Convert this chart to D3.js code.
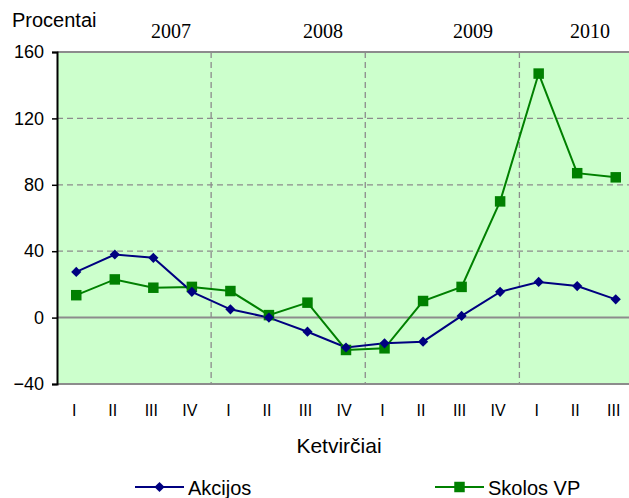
<!DOCTYPE html>
<html>
<head>
<meta charset="utf-8">
<script src="https://cdn.jsdelivr.net/npm/d3@7"></script>
<style>
  body { margin: 0; background: #fff; }
  svg { display: block; }
  text { font-family: "Liberation Sans", Arial, sans-serif; fill: #000; }
  .year { font-family: "Liberation Serif", "Times New Roman", serif; }
</style>
</head>
<body>
<div id="chart"></div>
<script>
// quarters (Lithuanian roman numerals)
const quarters = ["I","II","III","IV","I","II","III","IV","I","II","III","IV","I","II","III"];
const years = ["2007", "2008", "2009", "2010"];
const yearStart = [0, 4, 8, 12]; // index of first quarter in each year
const akcijos = [27.5, 38, 36, 15.5, 5, 0, -8.5, -18, -15.5, -14.5, 1, 15.5, 21.5, 19, 11];
const skolosVP = [13.5, 23, 18, 18.5, 16, 1.5, 9, -19.5, -18.5, 10, 18.5, 70, 147, 87, 84.5];
const yTicks = [-40, 0, 40, 80, 120, 160];

const width = 629, height = 498;
const margin = {top: 52, right: -6, bottom: 114, left: 57};

const svg = d3.select("#chart").append("svg")
  .attr("width", width).attr("height", height);

const x = d3.scaleBand()
  .domain(d3.range(quarters.length))
  .range([margin.left, width - margin.right]);
const y = d3.scaleLinear()
  .domain([-40, 160])
  .range([height - margin.bottom, margin.top]);

const cx = i => x(i) + x.bandwidth() / 2;

// plot background
svg.append("rect")
  .attr("x", margin.left).attr("y", y(160))
  .attr("width", x.range()[1] - margin.left)
  .attr("height", y(-40) - y(160))
  .attr("fill", "#ccffcc");

// horizontal grid
svg.append("g").selectAll("line")
  .data([40, 80, 120]).enter().append("line")
  .attr("x1", margin.left).attr("x2", x.range()[1])
  .attr("y1", d => y(d)).attr("y2", d => y(d))
  .attr("stroke", "#8c8c8c").attr("stroke-width", 1.3)
  .attr("stroke-dasharray", "6,4");

// vertical year separators
svg.append("g").selectAll("line")
  .data(yearStart.slice(1)).enter().append("line")
  .attr("x1", d => x(d)).attr("x2", d => x(d))
  .attr("y1", y(160)).attr("y2", y(-40))
  .attr("stroke", "#8c8c8c").attr("stroke-width", 1.3)
  .attr("stroke-dasharray", "6,4");

// frame lines: top, zero, bottom
svg.append("g").selectAll("line")
  .data([160, 0, -40]).enter().append("line")
  .attr("x1", margin.left).attr("x2", x.range()[1])
  .attr("y1", d => y(d)).attr("y2", d => y(d))
  .attr("stroke", "#8c8c8c").attr("stroke-width", 2);

// y axis
const yAxis = svg.append("g")
  .attr("transform", `translate(${margin.left},0)`)
  .call(d3.axisLeft(y).tickValues(yTicks).tickSize(5).tickPadding(8));
yAxis.select(".domain").attr("stroke", "#000").attr("stroke-width", 2);
yAxis.selectAll(".tick line").attr("stroke", "#000").attr("stroke-width", 1.5);
yAxis.selectAll(".tick text")
  .style("font-family", '"Liberation Sans", Arial, sans-serif')
  .style("font-size", "18px").attr("fill", "#000");

// x labels
svg.append("g").selectAll("text")
  .data(quarters).enter().append("text")
  .attr("x", (d, i) => cx(i) - 2)
  .attr("y", 416)
  .attr("text-anchor", "middle")
  .style("font-size", "16px")
  .text(d => d);

// year labels
const yearX = [171, 323, 473, 590];
svg.append("g").selectAll("text")
  .data(years).enter().append("text")
  .attr("class", "year")
  .attr("x", (d, i) => yearX[i])
  .attr("y", 38)
  .attr("text-anchor", "middle")
  .style("font-size", "20px")
  .text(d => d);

svg.append("text")
  .attr("x", 12).attr("y", 27)
  .style("font-size", "20px")
  .text("Procentai");

svg.append("text")
  .attr("x", 339).attr("y", 453)
  .attr("text-anchor", "middle")
  .style("font-size", "21px")
  .text("Ketvirčiai");

// lines
const line = d3.line()
  .x((d, i) => cx(i))
  .y(d => y(d));

svg.append("path").datum(skolosVP)
  .attr("d", line)
  .attr("fill", "none").attr("stroke", "#008000").attr("stroke-width", 2);
svg.append("path").datum(akcijos)
  .attr("d", line)
  .attr("fill", "none").attr("stroke", "#000080").attr("stroke-width", 2);

const square = d3.symbol().type(d3.symbolSquare).size(110);
const diamond = d3.symbol().type(d3.symbolSquare).size(52);

svg.append("g").selectAll("path")
  .data(skolosVP).enter().append("path")
  .attr("d", square)
  .attr("transform", (d, i) => `translate(${cx(i)},${y(d)})`)
  .attr("fill", "#008000");
svg.append("g").selectAll("path")
  .data(akcijos).enter().append("path")
  .attr("d", diamond)
  .attr("transform", (d, i) => `translate(${cx(i)},${y(d)}) rotate(45)`)
  .attr("fill", "#000080");

// legend
const legend = [
  {label: "Akcijos", color: "#000080", sym: diamond, rot: 45, x: 135},
  {label: "Skolos VP", color: "#008000", sym: square, rot: 0, x: 435}
];
const lg = svg.append("g").selectAll("g")
  .data(legend).enter().append("g")
  .attr("transform", d => `translate(${d.x},487)`);
lg.append("line")
  .attr("x1", 0).attr("x2", 49)
  .attr("stroke", d => d.color).attr("stroke-width", 2);
lg.append("path")
  .attr("d", d => d.sym())
  .attr("transform", d => `translate(24.5,0) rotate(${d.rot})`)
  .attr("fill", d => d.color);
lg.append("text")
  .attr("x", 53).attr("y", 7.5)
  .style("font-size", "20px")
  .text(d => d.label);
</script>
</body>
</html>
